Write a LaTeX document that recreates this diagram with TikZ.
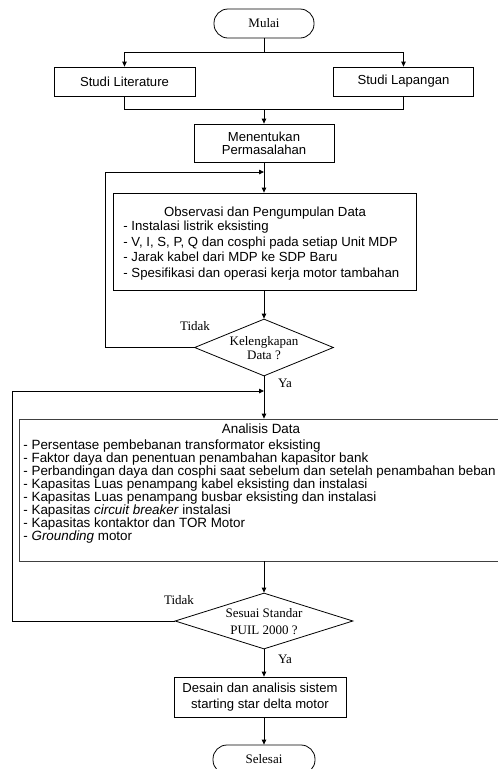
\documentclass[tikz,border=0pt]{standalone}
\usepackage{fontspec}
\setmainfont{Liberation Serif}
\setsansfont{Liberation Sans}
\usetikzlibrary{arrows.meta,shapes.geometric}
\begin{document}
\begin{tikzpicture}[x=1pt,y=-1pt, line width=0.8pt,
  box/.style={draw, rectangle, inner sep=0pt, font=\sffamily\fontsize{13.1}{13}\selectfont, align=center},
  term/.style={draw, rectangle, rounded corners=14pt, inner sep=0pt, minimum height=29pt, font=\fontsize{13}{15}\selectfont},
  dec/.style={draw, diamond, inner sep=0pt},
  arr/.style={-{Triangle[length=5pt,width=4.5pt]}},
  lbl/.style={font=\fontsize{13}{14}\selectfont, inner sep=0pt, align=center},
  txt/.style={font=\sffamily\fontsize{13.2}{13}\selectfont, inner sep=0pt, anchor=base west},
  atxt/.style={font=\sffamily\fontsize{13.4}{13}\selectfont, inner sep=0pt, anchor=base west},
  ttl/.style={font=\sffamily\fontsize{13.2}{13}\selectfont, inner sep=0pt, anchor=base}
]
\useasboundingbox (0,0) rectangle (498,769);
\clip (0,0) rectangle (498,769);

% nodes
\node[term, minimum width=100pt] (mulai) at (264,23.5) {Mulai};
\node[box, minimum width=141pt, minimum height=29pt] (lit) at (124.5,81.5) {Studi Literature};
\node[box, minimum width=140pt, minimum height=29pt] (lap) at (403.5,81.5) {Studi Lapangan};
\node[box, minimum width=140pt, minimum height=38pt] (men) at (264,143) {Menentukan\\Permasalahan};

\node[draw, rectangle, minimum width=303pt, minimum height=97pt, inner sep=0pt] (obs) at (264.5,241.5) {};
\node[ttl] (obst) at (265,216) {Observasi dan Pengumpulan Data};
\node[txt] (o1) at (123,230.5) {- Instalasi listrik eksisting};
\node[txt] (o2) at (123,246) {- V, I, S, P, Q dan cosphi pada setiap Unit MDP};
\node[txt] (o3) at (123,261.5) {- Jarak kabel dari MDP ke SDP Baru};
\node[txt] (o4) at (123,277) {- Spesifikasi dan operasi kerja motor tambahan};

\node[dec, minimum width=139pt, minimum height=57pt] (d1) at (264,347.5) {};
\node[lbl] (d1t) at (264,348) {Kelengkapan\\Data ?};
\node[lbl] (tidak1) at (195,326) {Tidak};
\node[lbl] (ya1) at (285,383) {Ya};

\node[draw=black!75, rectangle, minimum width=490pt, minimum height=142pt, inner sep=0pt] (ana) at (264,490) {};
\node[ttl, font=\sffamily\fontsize{13.4}{13}\selectfont] (anat) at (261,433) {Analisis Data};
\node[atxt] (a1) at (23,449) {- Persentase pembebanan transformator eksisting};
\node[atxt] (a2) at (23,462) {- Faktor daya dan penentuan penambahan kapasitor bank};
\node[atxt] (a3) at (23,475) {- Perbandingan daya dan cosphi saat sebelum dan setelah penambahan beban};
\node[atxt] (a4) at (23,488) {- Kapasitas Luas penampang kabel eksisting dan instalasi};
\node[atxt] (a5) at (23,501) {- Kapasitas Luas penampang busbar eksisting dan instalasi};
\node[atxt] (a6) at (23,514) {- Kapasitas \textit{circuit breaker} instalasi};
\node[atxt] (a7) at (23,527) {- Kapasitas kontaktor dan TOR Motor};
\node[atxt] (a8) at (23,540) {- \textit{Grounding} motor};

\node[dec, minimum width=178pt, minimum height=56pt] (d2) at (264,621) {};
\node[lbl, font=\fontsize{13}{16.5}\selectfont] (d2t) at (264,621.5) {Sesuai Standar\\PUIL 2000 ?};
\node[lbl] (tidak2) at (179,600) {Tidak};
\node[lbl] (ya2) at (285,659) {Ya};

\node[box, minimum width=172pt, minimum height=40pt, font=\sffamily\fontsize{13.1}{15.5}\selectfont] (des) at (260,697) {Desain dan analisis sistem\\starting star delta motor};
\node[term, minimum width=102pt] (sel) at (264,759.5) {Selesai};

% connectors
\coordinate (split) at (264,52);
\coordinate (merge) at (264,109);
\coordinate (fb1) at (264,172);
\coordinate (fb1c) at (105,172);
\coordinate (fb2) at (264,391);
\coordinate (fb2c) at (12,391);

\draw (mulai.south) -- (split);
\draw[arr] (split) -| (lit.north);
\draw[arr] (split) -| (lap.north);
\draw (lit.south) |- (merge);
\draw (lap.south) |- (merge);
\draw[arr] (merge) -- (men.north);
\draw[arr] (men.south) -- (men.south |- obs.north);
\draw[arr] (d1.west) -| (fb1c) -- (fb1);
\draw[arr] (obs.south -| d1.north) -- (d1.north);
\draw[arr] (d1.south) -- (ana.north);
\draw[arr] (d2.west) -| (fb2c) -- (fb2);
\draw[arr] (ana.south) -- (d2.north);
\draw[arr] (d2.south) -- (d2.south |- des.north);
\draw[arr] (des.south -| sel.north) -- (sel.north);
\end{tikzpicture}
\end{document}
